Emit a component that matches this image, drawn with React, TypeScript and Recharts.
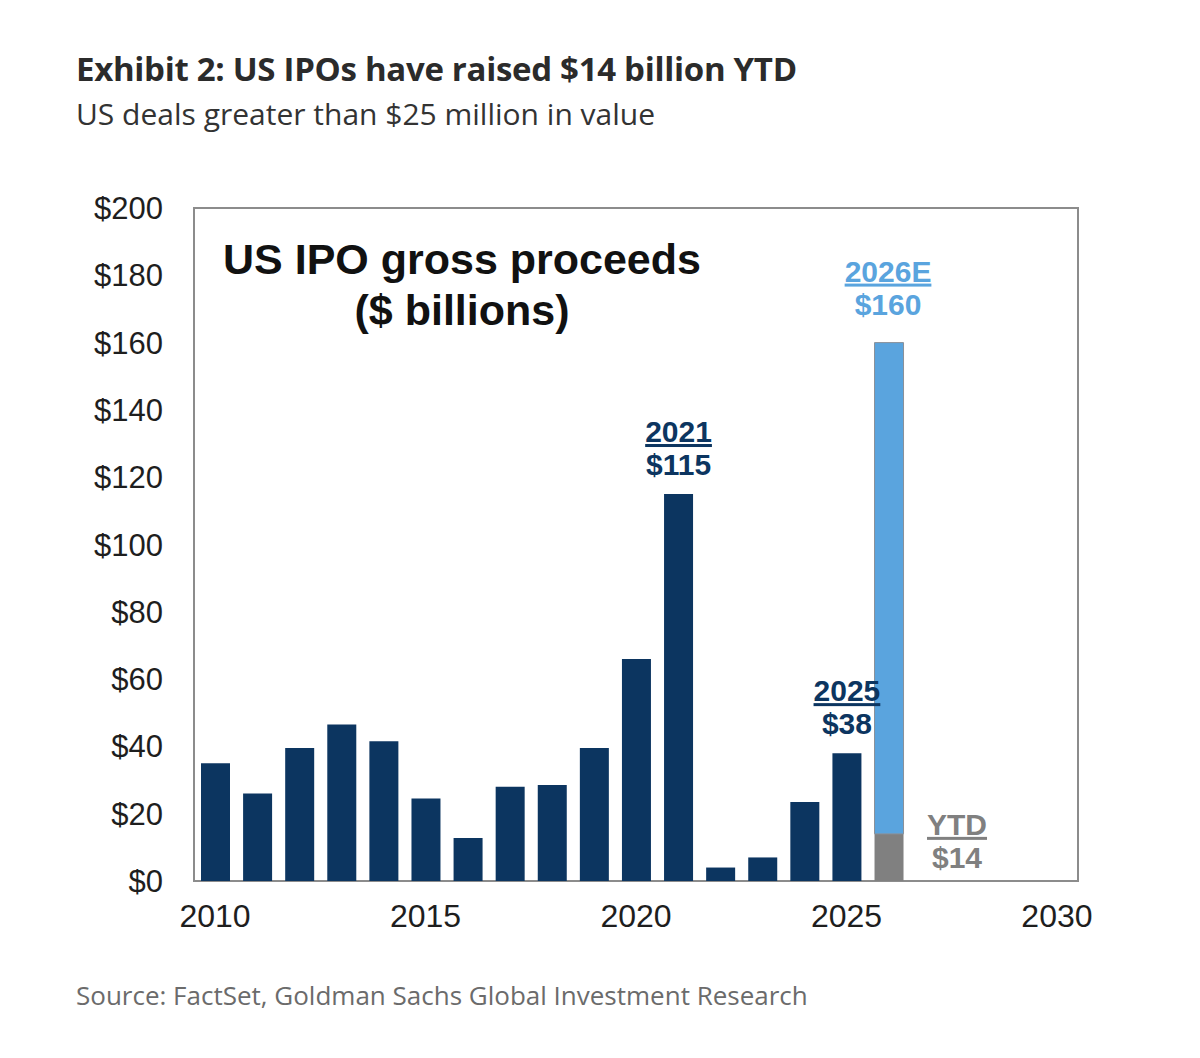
import React from 'react';
import { BarChart, Bar, XAxis, YAxis, ReferenceArea, LabelList } from 'recharts';

// US IPO gross proceeds, $ billions
const years = [2010, 2011, 2012, 2013, 2014, 2015, 2016, 2017, 2018, 2019, 2020, 2021, 2022, 2023, 2024, 2025, 2026];
const actual = [35, 26, 39.5, 46.5, 41.5, 24.5, 12.8, 28, 28.5, 39.5, 66, 115, 4, 7, 23.5, 38, null];
const ytd2026 = 14;
const estimate2026 = 160;
const callouts = [2021, 2025];

const yTicks = [0, 20, 40, 60, 80, 100, 120, 140, 160, 180, 200];
const xTicks = [2010, 2015, 2020, 2025, 2030];

const NAVY = '#0c3560';
const BLUE = '#5aa4de';
const GRAY = '#808080';
const AXIS_FONT = 'Arial, "Liberation Sans", sans-serif';
const TEXT_FONT = '"Open Sans", sans-serif';

const rows = years.map((year, i) => ({
  year,
  actual: actual[i],
  ytd: year === 2026 ? ytd2026 : null,
  rest: year === 2026 ? estimate2026 - ytd2026 : null,
}));

function ActualLabel(props: any) {
  const { x, y, width, index } = props;
  const year = years[index];
  if (!callouts.includes(year)) return null;
  const cx = x + width / 2;
  return (
    <g fontFamily={AXIS_FONT} fontWeight={700} fontSize={30} fill={NAVY} textAnchor="middle">
      <text x={cx} y={y - 52} textDecoration="underline">{year}</text>
      <text x={cx} y={y - 19}>${Math.round(actual[index] as number)}</text>
    </g>
  );
}

function EstimateLabel(props: any) {
  const { x, y, width, value } = props;
  if (value == null) return null;
  const cx = x + width / 2 - 1;
  return (
    <g fontFamily={AXIS_FONT} fontWeight={700} fontSize={30} fill={BLUE} textAnchor="middle">
      <text x={cx} y={y - 61} textDecoration="underline">2026E</text>
      <text x={cx} y={y - 28}>${estimate2026}</text>
    </g>
  );
}

function YtdLabel(props: any) {
  const { x, y, width, value } = props;
  if (value == null) return null;
  const cx = x + width / 2 + 68;
  return (
    <g fontFamily={AXIS_FONT} fontWeight={700} fontSize={30} fill={GRAY} textAnchor="middle">
      <text x={cx} y={y + 1} textDecoration="underline">YTD</text>
      <text x={cx} y={y + 34}>${ytd2026}</text>
    </g>
  );
}

export default function App() {
  return (
    <div style={{ position: 'relative', width: 1184, height: 1042, background: '#fff' }}>
      <div
        style={{
          position: 'absolute', left: 68, top: 44, fontFamily: TEXT_FONT,
          fontWeight: 700, fontSize: 33, color: '#2b2b2b', whiteSpace: 'nowrap', lineHeight: 1,
          letterSpacing: -0.3,
        }}
      >
        Exhibit 2: US IPOs have raised $14 billion YTD
      </div>
      <div
        style={{
          position: 'absolute', left: 68, top: 91, fontFamily: TEXT_FONT,
          fontSize: 30, color: '#333', whiteSpace: 'nowrap', lineHeight: 1,
        }}
      >
        US deals greater than $25 million in value
      </div>

      <BarChart
        width={1184}
        height={960}
        data={rows}
        margin={{ top: 200, right: 114, bottom: 27, left: 86 }}
        barSize={29}
      >
        <ReferenceArea
          x1={2009.5}
          x2={2030.5}
          y1={0}
          y2={200}
          fill="none"
          stroke="#8c8c8c"
          strokeWidth={2}
          ifOverflow="extendDomain"
        />
        <XAxis
          dataKey="year"
          type="number"
          domain={[2009.5, 2030.5]}
          ticks={xTicks}
          axisLine={false}
          tickLine={false}
          tickSize={8}
          tickMargin={15}
          height={60}
          tick={{ fontFamily: AXIS_FONT, fontSize: 32, fill: '#1e1e1e' }}
        />
        <YAxis
          domain={[0, 200]}
          ticks={yTicks}
          axisLine={false}
          tickLine={false}
          tickSize={8}
          tickMargin={23}
          width={100}
          tickFormatter={(v) => `$${v}`}
          tick={{ fontFamily: AXIS_FONT, fontSize: 31, fill: '#1e1e1e' }}
        />
        <Bar dataKey="actual" stackId="a" fill={NAVY} isAnimationActive={false}>
          <LabelList dataKey="actual" content={ActualLabel} />
        </Bar>
        <Bar dataKey="ytd" stackId="a" fill={GRAY} isAnimationActive={false}>
          <LabelList dataKey="ytd" content={YtdLabel} />
        </Bar>
        <Bar dataKey="rest" stackId="a" fill={BLUE} stroke="#8a9099" strokeWidth={1} isAnimationActive={false}>
          <LabelList dataKey="rest" content={EstimateLabel} />
        </Bar>
      </BarChart>

      <div
        style={{
          position: 'absolute', left: 154, top: 226, width: 600, textAlign: 'center',
          fontFamily: AXIS_FONT, fontWeight: 700, fontSize: 43, color: '#111', lineHeight: '51px',
        }}
      >
        US IPO gross proceeds
        <br />($ billions)
      </div>

      <div
        style={{
          position: 'absolute', left: 68, top: 974, fontFamily: TEXT_FONT,
          fontSize: 26, color: '#6b6b6b', whiteSpace: 'nowrap', lineHeight: 1,
        }}
      >
        Source: FactSet, Goldman Sachs Global Investment Research
      </div>
    </div>
  );
}
